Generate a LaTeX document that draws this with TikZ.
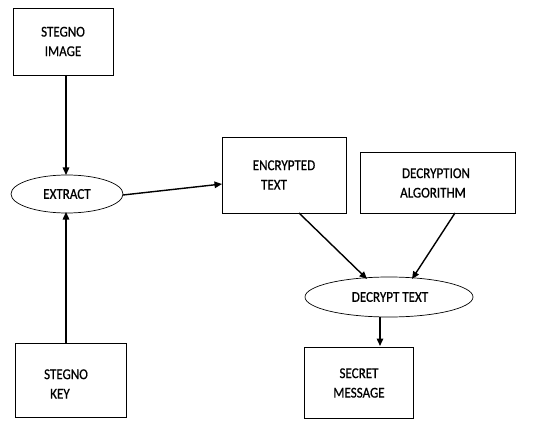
\documentclass[tikz,border=0pt]{standalone}
\usepackage{fontspec}
\setmainfont{Carlito}[FakeStretch=0.87,FakeBold=0.6]
\usetikzlibrary{arrows.meta,shapes.geometric}
\begin{document}
\begin{tikzpicture}[x=1pt,y=-1pt,
  box/.style={draw,line width=0.8pt,inner sep=0pt},
  oval/.style={draw,ellipse,line width=0.7pt,inner sep=0pt},
  lbl/.style={font=\fontsize{15}{19.5}\selectfont,align=center,inner sep=0pt},
  arr/.style={line width=1.4pt,-{Triangle[length=7.5pt,width=6.5pt]}}]
\useasboundingbox (0,0) rectangle (534,430);
% boxes
\node[box,minimum width=100pt,minimum height=67pt] (img) at (63,41.5) {};
\node[box,minimum width=111pt,minimum height=74pt] (key) at (70.5,380) {};
\node[box,minimum width=124pt,minimum height=76pt] (enc) at (284,175) {};
\node[box,minimum width=155pt,minimum height=61pt] (alg) at (437.5,182.5) {};
\node[box,minimum width=109pt,minimum height=71pt] (sec) at (358.5,382.5) {};
% ellipses
\node[oval,minimum width=112pt,minimum height=38pt] (ext) at (67,194) {};
\node[oval,minimum width=168pt,minimum height=40pt] (dec) at (389,297) {};
% labels
\node[lbl] (timg) at (63,41.5) {STEGNO\\IMAGE};
\node[lbl] (tkey) at (66,384) {STEGNO\\\hspace*{-12pt}KEY};
\node[lbl] (tenc) at (284,175) {ENCRYPTED\\\hspace*{-20pt}TEXT};
\node[lbl] (talg) at (436,183) {DECRYPTION\\\hspace*{-6pt}ALGORITHM};
\node[lbl] (tsec) at (359,383) {SECRET\\MESSAGE};
\node[lbl] (text) at (67,194) {EXTRACT};
\node[lbl] (tdec) at (390,297) {DECRYPT TEXT};
% connectors
\coordinate (a1) at (66,75);
\coordinate (a2) at (66,175);
\coordinate (b1) at (66,343);
\coordinate (b2) at (66,212);
\coordinate (c1) at (123,195);
\coordinate (c2) at (222,184);
\coordinate (d1) at (299,213);
\coordinate (d2) at (367,279);
\coordinate (e1) at (455,213);
\coordinate (e2) at (412,279);
\coordinate (f1) at (380,317);
\coordinate (f2) at (380,346);
\draw[arr] (a1) -- (a2);
\draw[arr] (b1) -- (b2);
\draw[arr] (c1) -- (c2);
\draw[arr] (d1) -- (d2);
\draw[arr] (e1) -- (e2);
\draw[arr] (f1) -- (f2);
\end{tikzpicture}
\end{document}
